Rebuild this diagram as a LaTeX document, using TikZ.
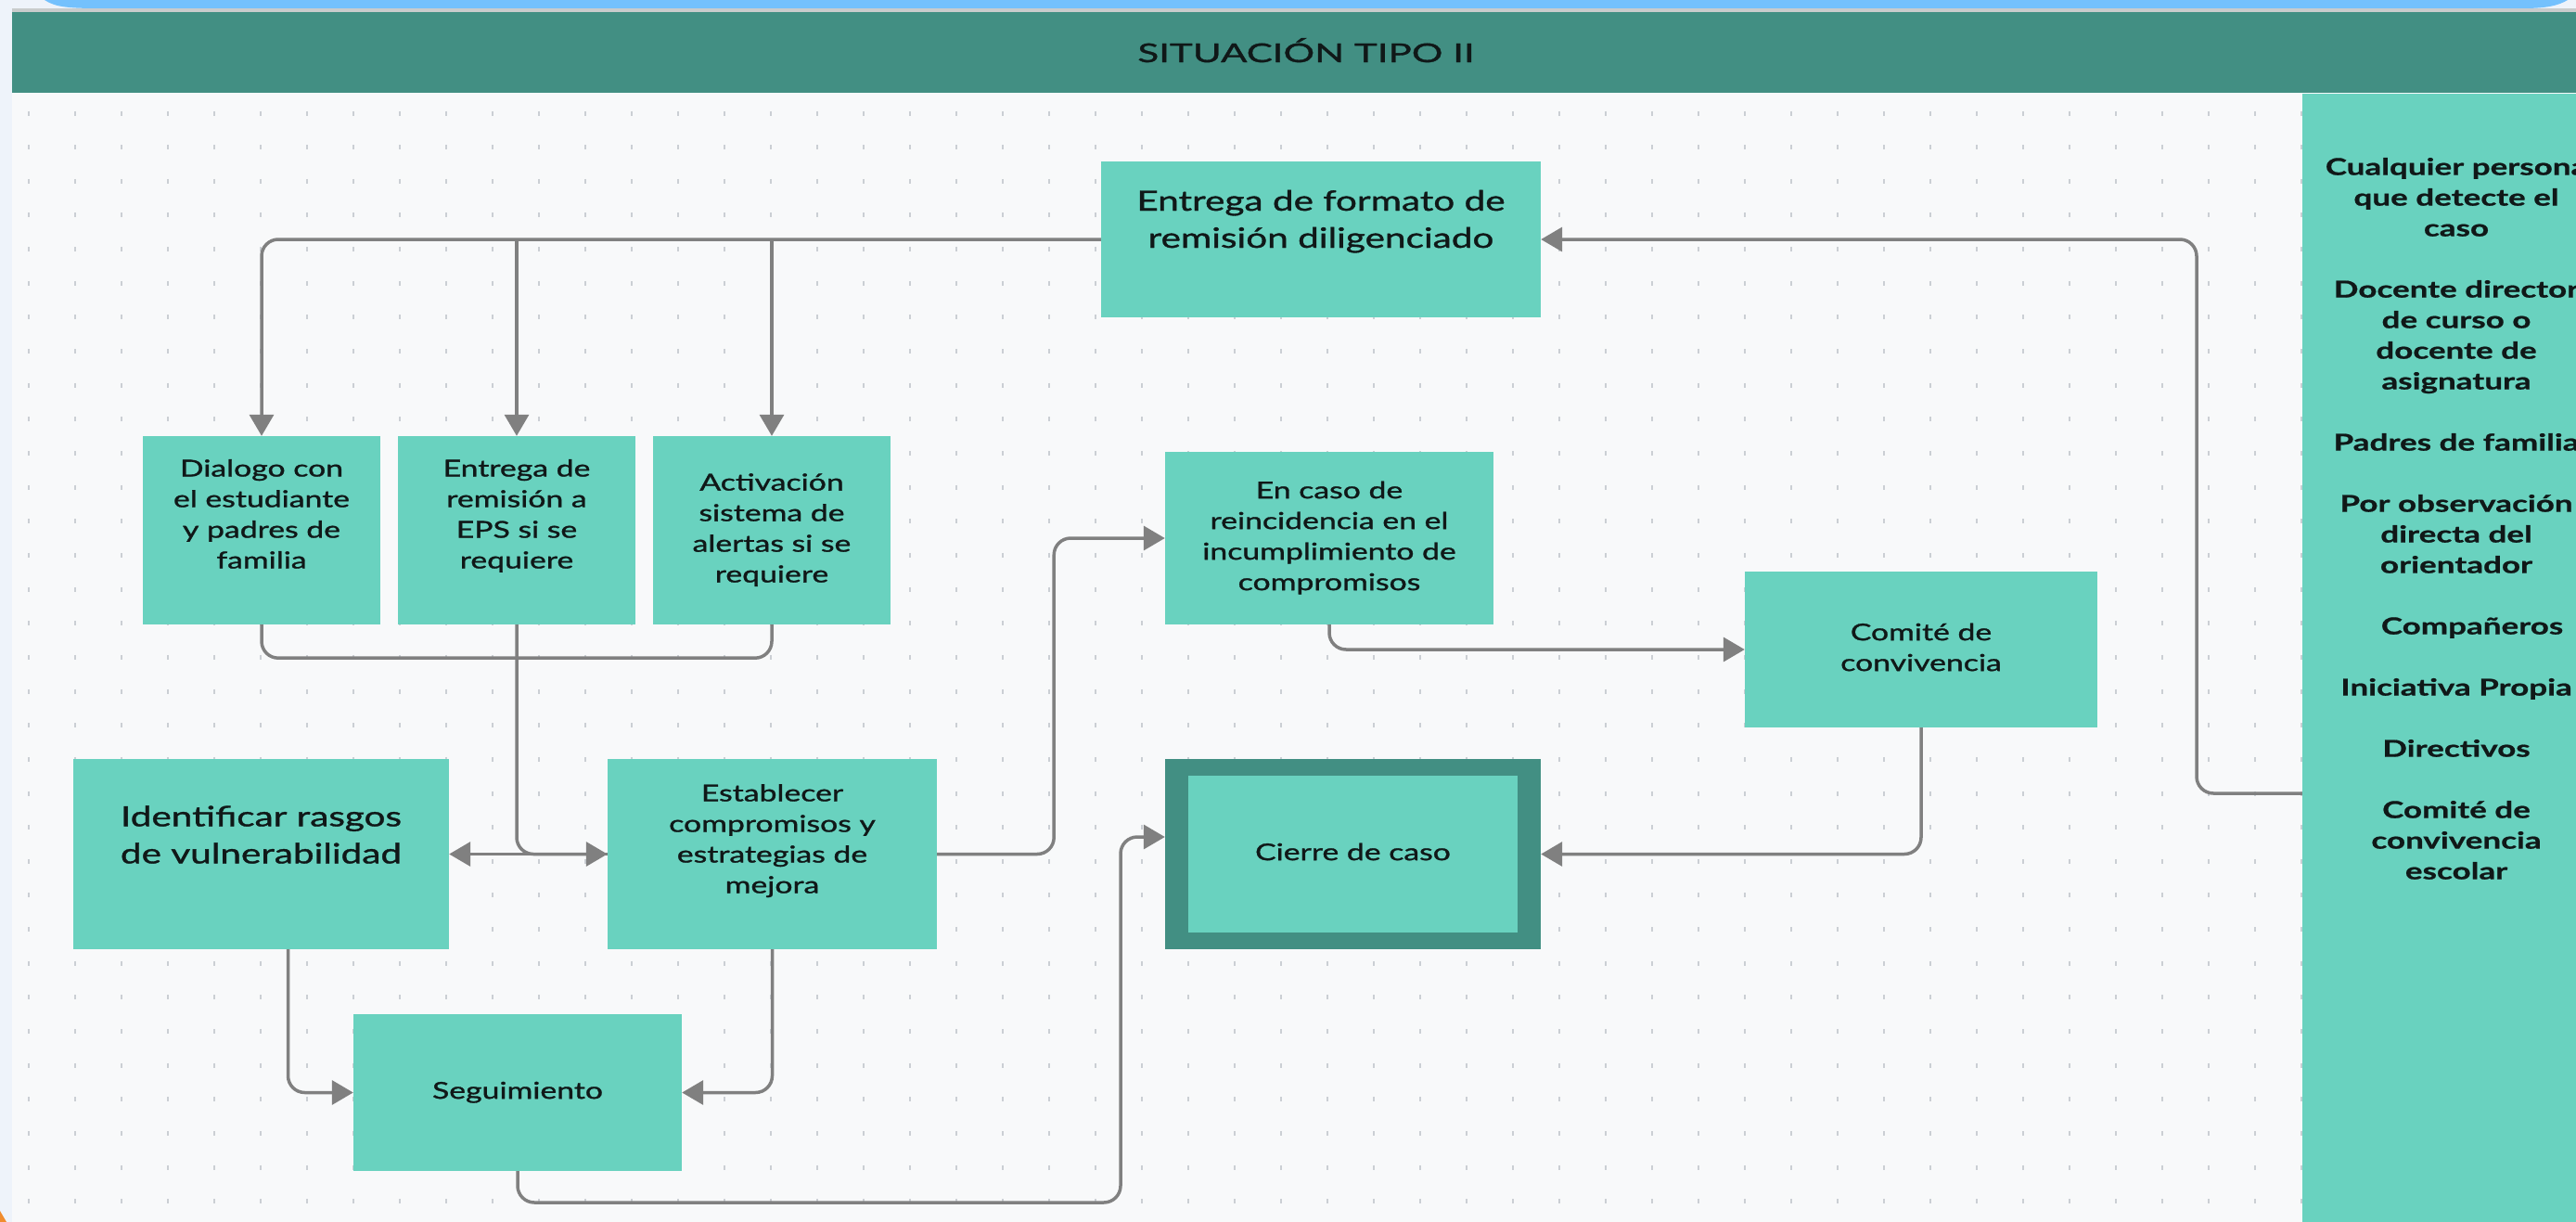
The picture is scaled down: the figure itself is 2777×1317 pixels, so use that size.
\documentclass[tikz,border=0pt]{standalone}
\usepackage{fontspec}
\setmainfont{Lato}[FakeStretch=1.35, FakeBold=1.2]
\newfontfamily\titlefont{Lato}[FakeStretch=1.5, FakeBold=1.2]
\newfontfamily\panelfont{Lato}[FakeStretch=1.4, FakeBold=0.8]
\usetikzlibrary{arrows.meta}
\definecolor{boxfill}{HTML}{69D2BF}
\definecolor{darkteal}{HTML}{428F83}
\definecolor{linegray}{HTML}{808080}
\definecolor{canvasbg}{HTML}{F8F9FA}
\definecolor{tickgray}{HTML}{CBCFD4}
\definecolor{bandblue}{HTML}{74C1FD}
\definecolor{outerbg}{HTML}{EEF3FA}
\definecolor{shadowgray}{HTML}{C9CCCC}
\definecolor{txt}{HTML}{101818}
\definecolor{orangebit}{HTML}{F08C2E}
\newcommand\liftup[1]{\rule[-#1]{0pt}{#1}}
\begin{document}
\begin{tikzpicture}[x=1pt,y=-1pt,
  box/.style={fill=boxfill, draw=none, inner sep=0pt, align=center, text=txt},
  small/.style={font=\fontsize{25pt}{33pt}\selectfont},
  big/.style={font=\fontsize{30pt}{40pt}\selectfont},
  conn/.style={draw=linegray, line width=3.5pt, rounded corners=18pt},
  arr/.style={-{Triangle[length=23pt,width=26pt]}},
  tick/.style={draw=tickgray, line width=1.6pt}
]
\useasboundingbox (0,0) rectangle (2777,1317);
% backgrounds
\fill[outerbg] (0,0) rectangle (2777,1317);
\fill[bandblue] (48,0) .. controls (60,8) and (75,9) .. (110,9) -- (2720,9) .. controls (2745,9) and (2758,6) .. (2768,0) -- cycle;
\fill[shadowgray] (13,9) rectangle (2777,13);
\fill[canvasbg] (13,100) rectangle (2777,1317);
\fill[orangebit] (0,1317) -- (0,1305) -- (7,1317) -- cycle;
% dot grid
\foreach \i in {0,...,49}{
  \foreach \j in {0,...,32}{
    \draw[tick] ({31+50*\i},{119.5+36.65*\j}) -- ++(0,5);
  }
}
% header
\node[fill=darkteal, inner sep=0pt, minimum width=2764pt, minimum height=87pt, anchor=north west] (header) at (13,13) {};
\node[anchor=base, text=txt, font=\titlefont\fontsize{28pt}{34pt}\selectfont] (title) at (1408,67) {SITUACIÓN TIPO II};
% right panel
\node[fill=boxfill, inner sep=0pt, minimum width=295pt, minimum height=1216pt] (panel) at (2629.5,709) {};
\node[align=center, text=txt, inner sep=0pt, font=\panelfont\bfseries\fontsize{25pt}{33pt}\selectfont] (paneltext) at (2648,561.5)
 {\strut Cualquier persona\\ que detecte el\\ caso\\[33pt] Docente director\\ de curso o\\ docente de\\ asignatura\\[33pt] Padres de familia\\[33pt] Por observación\\ directa del\\ orientador\\[33pt] \hspace*{34pt}Compañeros\\[33pt] Iniciativa Propia\\[33pt] Directivos\\[33pt] Comité de\\ convivencia\\ escolar\strut};
% boxes
\node[box, big, minimum width=474pt, minimum height=168pt] (entrega) at (1424,258)
 {\strut Entrega de formato de\\ remisión diligenciado\strut\liftup{50pt}};
\node[box, small, minimum width=256pt, minimum height=203pt] (dialogo) at (282,571.5)
 {\strut Dialogo con\\ el estudiante\\ y padres de\\ familia\strut\liftup{40pt}};
\node[box, small, minimum width=256pt, minimum height=203pt] (remision) at (557,571.5)
 {\strut Entrega de\\ remisión a\\ EPS si se\\ requiere\strut\liftup{40pt}};
\node[box, small, minimum width=256pt, minimum height=203pt] (activacion) at (832,571.5)
 {\strut Activación\\ sistema de\\ alertas si se\\ requiere\strut};
\node[box, small, minimum width=354pt, minimum height=186pt] (reinc) at (1433,580)
 {\strut En caso de\\ reincidencia en el\\ incumplimiento de\\ compromisos\strut};
\node[box, small, minimum width=380pt, minimum height=168pt] (comite) at (2071,700)
 {\strut Comité de\\ convivencia\strut};
\node[box, big, minimum width=405pt, minimum height=205pt] (identificar) at (281.5,920.5)
 {\strut Identificar rasgos\\ de vulnerabilidad\strut\liftup{48pt}};
\node[box, small, minimum width=355pt, minimum height=205pt] (establecer) at (832.5,920.5)
 {\strut Establecer\\ compromisos y\\ estrategias de\\ mejora\strut\liftup{38pt}};
\node[box, small, fill=darkteal, minimum width=405pt, minimum height=205pt,
  path picture={\fill[boxfill] ([shift={(25pt,-18pt)}]path picture bounding box.north west) rectangle ([shift={(-25pt,18pt)}]path picture bounding box.south east);}]
  (cierre) at (1458.5,920.5) {\strut Cierre de caso\strut};
\node[box, small, minimum width=354pt, minimum height=169pt] (seguimiento) at (558,1177.5)
 {\strut Seguimiento\strut};
% connectors
\draw[conn, arr] ([yshift=-146pt]panel.west) -- (2368,855) -- (2368,258) -- (entrega.east);
\draw[conn, arr] (entrega.west) -| (dialogo.north);
\draw[conn, arr] (entrega.west -| remision.north) -- (remision.north);
\draw[conn, arr] (entrega.west -| activacion.north) -- (activacion.north);
\draw[conn] (dialogo.south) -- ++(0,36) -| (activacion.south);
\draw[conn, arr] (remision.south) |- (establecer.west);
\draw[conn, arr] (establecer.west) -- (identificar.east);
\draw[conn, arr] (establecer.east) -- ++(126,0) |- (reinc.west);
\draw[conn, arr] (reinc.south) |- (comite.west);
\draw[conn, arr] (comite.south) |- (cierre.east);
\draw[conn, arr] ([xshift=29pt]identificar.south) |- (seguimiento.west);
\draw[conn, arr] (establecer.south) |- (seguimiento.east);
\draw[conn, arr] (seguimiento.south) -- (558,1296) -- (1208,1296) -- (1208,902) -- ([yshift=18.5pt]cierre.west);
\end{tikzpicture}
\end{document}
